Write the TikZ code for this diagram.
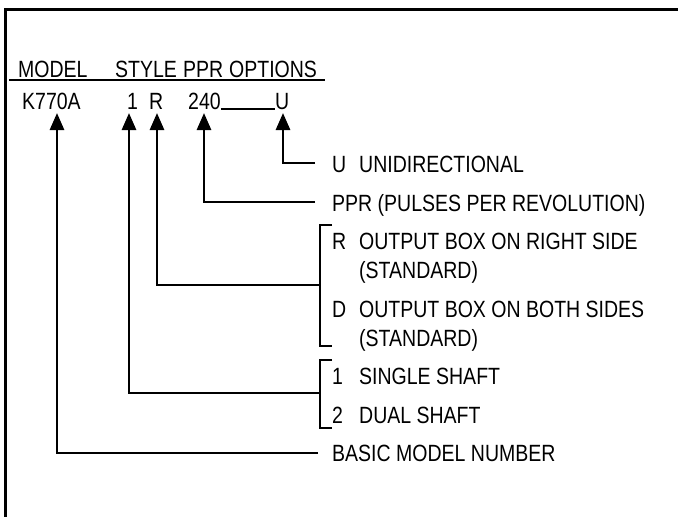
\documentclass[tikz,border=0pt]{standalone}
\usepackage{fontspec}
\setmainfont{Liberation Sans}[FakeStretch=0.83]
\usetikzlibrary{arrows.meta}
\begin{document}
\begin{tikzpicture}[x=1pt,y=-1pt,
  txt/.style={anchor=base west,inner sep=0pt,font=\fontsize{23.5}{28}\selectfont},
  conn/.style={line width=2.8pt},
  arr/.style={conn,-{Triangle[length=17pt,width=14pt]}},
  frame/.style={line width=3pt},
]
\useasboundingbox (0,0) rectangle (678,517);
% frame
\draw[frame] (5.5,517) -- (5.5,9) -- (678,9);
% header
\node[txt] (hmodel) at (18,77) {MODEL};
\node[txt] (hstyle) at (115,77) {STYLE};
\node[txt] (hppr) at (183,77) {PPR};
\node[txt] (hopt) at (229,77) {OPTIONS};
\coordinate (ulA) at (9,80);
\coordinate (ulB) at (325,80);
\draw[line width=1.5pt] (ulA) -- (ulB);
% codes
\node[txt] (cmodel) at (22,109) {K770A};
\node[txt] (cstyle) at (127,109) {1};
\node[txt] (cr) at (149,109) {R};
\node[txt] (cppr) at (188,109) {240};
\node[txt] (cu) at (275,109) {U};
\draw[line width=1.3pt] (cppr.base east) -- (cu.base west);
% arrow tips
\coordinate (tK) at (57,113);
\coordinate (t1) at (129,113);
\coordinate (tR) at (157,113);
\coordinate (tP) at (204,113);
\coordinate (tU) at (283,113);
% labels
\node[txt] (ku) at (332,172) {U};
\node[txt] (du) at (359,172) {UNIDIRECTIONAL};
\node[txt] (dp) at (332,211) {PPR (PULSES PER REVOLUTION)};
\node[txt] (kr) at (332,249) {R};
\node[txt] (dr) at (359,249) {OUTPUT BOX ON RIGHT SIDE};
\node[txt] (dr2) at (359,278) {(STANDARD)};
\node[txt] (kd) at (332,317) {D};
\node[txt] (dd) at (359,317) {OUTPUT BOX ON BOTH SIDES};
\node[txt] (dd2) at (359,346) {(STANDARD)};
\node[txt] (k1) at (332,384) {1};
\node[txt] (d1) at (359,384) {SINGLE SHAFT};
\node[txt] (k2) at (332,423) {2};
\node[txt] (d2) at (359,423) {DUAL SHAFT};
\node[txt] (db) at (332,461) {BASIC MODEL NUMBER};
% connector start points
\coordinate (sU) at (315,163);
\coordinate (sP) at (315,202);
\coordinate (sR) at (320,285);
\coordinate (s1) at (320,393);
\coordinate (sK) at (318,453);
% brackets
\coordinate (bRa) at (332,225);
\coordinate (bRb) at (332,346);
\coordinate (b1a) at (332,360);
\coordinate (b1b) at (332,428);
\draw[conn] (bRa) -- ++(-12,0) |- (bRb);
\draw[conn] (b1a) -- ++(-12,0) |- (b1b);
% arrows
\draw[arr] (sU) -| (tU);
\draw[arr] (sP) -| (tP);
\draw[arr] (sR) -| (tR);
\draw[arr] (s1) -| (t1);
\draw[arr] (sK) -| (tK);
\end{tikzpicture}
\end{document}
